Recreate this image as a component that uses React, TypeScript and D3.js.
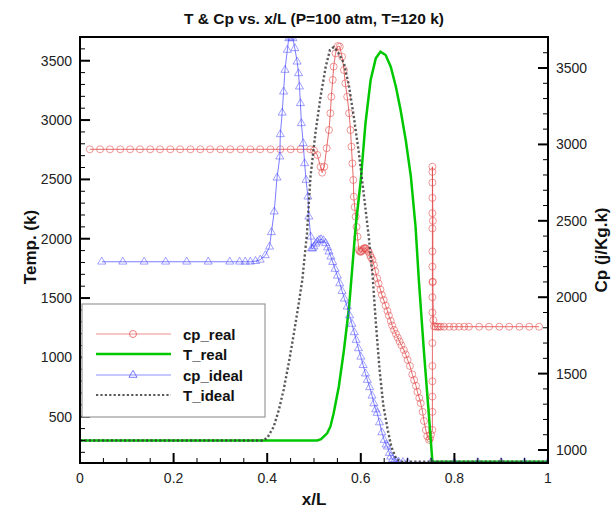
import React, { useEffect, useRef } from "react";
import * as d3 from "d3";

const W = 613, H = 510;
const M = { left: 80, right: 548, top: 37, bottom: 463 };

const xTicks = [0, 0.2, 0.4, 0.6, 0.8, 1];
const tempTicks = [500, 1000, 1500, 2000, 2500, 3000, 3500];
const cpTicks = [1000, 1500, 2000, 2500, 3000, 3500];

const tRealX = [0, 0.1, 0.2, 0.3, 0.4, 0.507, 0.515, 0.528, 0.535, 0.542, 0.553, 0.564, 0.575, 0.582, 0.589, 0.6, 0.61, 0.621, 0.632, 0.642, 0.653, 0.664, 0.675, 0.685, 0.696, 0.707, 0.717, 0.724, 0.735, 0.744, 0.753, 0.8, 0.9, 1.0];
const tRealY = [300, 300, 300, 300, 300, 300, 310, 360, 416, 529, 753, 1062, 1427, 1764, 2101, 2495, 2973, 3337, 3520, 3576, 3548, 3449, 3281, 3085, 2832, 2523, 2101, 1652, 1045, 590, 120, 120, 120, 120];

const tIdealX = [0, 0.1, 0.2, 0.3, 0.39, 0.4, 0.414, 0.425, 0.435, 0.446, 0.457, 0.466, 0.475, 0.485, 0.4925, 0.503, 0.514, 0.525, 0.534, 0.542, 0.55, 0.564, 0.575, 0.585, 0.596, 0.607, 0.617, 0.625, 0.632, 0.64, 0.648, 0.657, 0.665, 0.675, 0.685, 0.8, 1.0];
const tIdealY = [300, 300, 300, 300, 300, 320, 416, 560, 725, 950, 1202, 1420, 1652, 2045, 2523, 2888, 3197, 3449, 3590, 3615, 3580, 3480, 3281, 3029, 2720, 2354, 2017, 1700, 1300, 900, 600, 400, 250, 150, 120, 120, 120];

const cpRealX = [0.021, 0.043, 0.064, 0.086, 0.107, 0.128, 0.15, 0.171, 0.193, 0.214, 0.236, 0.257, 0.278, 0.3, 0.321, 0.343, 0.364, 0.385, 0.407, 0.428, 0.45, 0.471, 0.492, 0.5, 0.507, 0.514, 0.5175, 0.522, 0.527, 0.532, 0.535, 0.537, 0.54, 0.542, 0.546, 0.551, 0.555, 0.56, 0.564, 0.567, 0.571, 0.575, 0.578, 0.58, 0.582, 0.584, 0.585, 0.587, 0.589, 0.591, 0.593, 0.596, 0.598, 0.6, 0.602, 0.604, 0.606, 0.608, 0.61, 0.612, 0.615, 0.617, 0.62, 0.622, 0.625, 0.628, 0.631, 0.635, 0.638, 0.642, 0.645, 0.649, 0.653, 0.657, 0.66, 0.664, 0.667, 0.671, 0.675, 0.679, 0.683, 0.687, 0.692, 0.696, 0.7, 0.705, 0.71, 0.714, 0.718, 0.721, 0.725, 0.728, 0.732, 0.735, 0.739, 0.742, 0.746, 0.748, 0.75, 0.753, 0.753, 0.753, 0.753, 0.753, 0.753, 0.753, 0.753, 0.753, 0.753, 0.753, 0.753, 0.753, 0.753, 0.753, 0.753, 0.753, 0.754, 0.754, 0.755, 0.7566, 0.76, 0.764, 0.767, 0.771, 0.778, 0.789, 0.799, 0.81, 0.821, 0.831, 0.853, 0.874, 0.896, 0.917, 0.939, 0.96, 0.981];
const cpRealY = [2968, 2968, 2968, 2968, 2968, 2968, 2968, 2968, 2968, 2968, 2968, 2968, 2968, 2968, 2968, 2968, 2968, 2968, 2968, 2968, 2968, 2968, 2968, 2960, 2931, 2854, 2815, 2854, 2975, 3094, 3204, 3312, 3422, 3509, 3596, 3644, 3640, 3574, 3487, 3400, 3312, 3204, 3094, 2985, 2876, 2767, 2658, 2590, 2527, 2460, 2396, 2309, 2300, 2296, 2302, 2309, 2318, 2322, 2320, 2316, 2305, 2296, 2275, 2260, 2244, 2210, 2170, 2124, 2090, 2050, 2015, 1982, 1945, 1910, 1880, 1845, 1815, 1786, 1760, 1735, 1710, 1685, 1655, 1625, 1590, 1550, 1495, 1458, 1420, 1380, 1340, 1306, 1250, 1190, 1131, 1090, 1066, 1075, 1100, 1131, 1250, 1350, 1450, 1550, 1700, 1900, 2000, 2100, 2200, 2300, 2450, 2550, 2650, 2750, 2820, 2854, 2500, 2100, 1850, 1810, 1807, 1807, 1807, 1807, 1807, 1807, 1807, 1807, 1807, 1807, 1807, 1807, 1807, 1807, 1807, 1807, 1807];

const cpIdealX = [0.0465, 0.0914, 0.137, 0.183, 0.228, 0.274, 0.32, 0.341, 0.353, 0.364, 0.375, 0.385, 0.396, 0.405, 0.409, 0.415, 0.421, 0.427, 0.428, 0.432, 0.435, 0.438, 0.443, 0.446, 0.45, 0.455, 0.459, 0.464, 0.467, 0.469, 0.471, 0.473, 0.477, 0.48, 0.483, 0.487, 0.489, 0.493, 0.495, 0.497, 0.5, 0.504, 0.507, 0.511, 0.515, 0.52, 0.525, 0.529, 0.532, 0.536, 0.54, 0.545, 0.55, 0.555, 0.56, 0.565, 0.571, 0.576, 0.581, 0.586, 0.59, 0.595, 0.6, 0.605, 0.61, 0.614, 0.619, 0.624, 0.628, 0.632, 0.635, 0.64, 0.645, 0.65, 0.654, 0.657, 0.661, 0.664, 0.668, 0.672, 0.676, 0.681, 0.69, 0.7, 0.75, 0.8, 0.85, 0.9, 0.95, 1.0];
const cpIdealY = [2232, 2232, 2232, 2232, 2232, 2232, 2232, 2232, 2232, 2232, 2236, 2245, 2274, 2330, 2425, 2560, 2782, 2920, 3066, 3207, 3345, 3487, 3618, 3694, 3700, 3694, 3629, 3541, 3465, 3378, 3269, 3138, 3007, 2876, 2767, 2658, 2527, 2396, 2320, 2318, 2331, 2350, 2363, 2374, 2379, 2372, 2353, 2325, 2298, 2265, 2230, 2185, 2140, 2090, 2040, 1990, 1938, 1880, 1825, 1770, 1720, 1665, 1610, 1555, 1500, 1458, 1410, 1355, 1305, 1265, 1242, 1180, 1115, 1065, 1035, 1022, 980, 956, 940, 930, 925, 922, 920, 920, 920, 920, 920, 920, 920, 920];

const legendNames = ["cp_real", "T_real", "cp_ideal", "T_ideal"];

const FONT = "'Liberation Sans', Arial, sans-serif";
const RED = "rgb(226,70,70)";
const BLUE = "rgb(70,70,255)";
const GREEN = "rgb(0,200,0)";
const DOT = "rgb(60,60,60)";

export default function App() {
  const ref = useRef<SVGSVGElement>(null);
  useEffect(() => {
    const svg = d3.select(ref.current);
    svg.selectAll("*").remove();
    const x = d3.scaleLinear().domain([0, 1]).range([M.left, M.right]);
    const yT = d3.scaleLinear().domain([110, 3700]).range([M.bottom, M.top]);
    const yC = d3.scaleLinear().domain([915, 3703]).range([M.bottom, M.top]);

    svg.append("rect").attr("width", W).attr("height", H).attr("fill", "white");

    svg.append("defs").append("clipPath").attr("id", "clip")
      .append("rect").attr("x", M.left).attr("y", M.top - 1)
      .attr("width", M.right - M.left).attr("height", M.bottom - M.top + 1);

    const g = svg.append("g").attr("clip-path", "url(#clip)");

    const mk = (xs: number[], ys: number[]) => xs.map((v, i) => [v, ys[i]] as [number, number]);
    const tReal = mk(tRealX, tRealY);
    const tIdeal = mk(tIdealX, tIdealY);
    const cpReal = mk(cpRealX, cpRealY);
    const cpIdeal = mk(cpIdealX, cpIdealY);

    const lineT = d3.line<[number, number]>().x(d => x(d[0])).y(d => yT(d[1]));
    const lineC = d3.line<[number, number]>().x(d => x(d[0])).y(d => yC(d[1]));

    // cp_real
    g.append("path").attr("d", lineC(cpReal)).attr("fill", "none").attr("stroke", RED).attr("stroke-width", 1).attr("stroke-opacity", 0.8);
    g.selectAll("circle.cr").data(cpReal).enter().append("circle")
      .attr("cx", d => x(d[0])).attr("cy", d => yC(d[1])).attr("r", 3.5)
      .attr("fill", "none").attr("stroke", RED).attr("stroke-opacity", 0.55).attr("stroke-width", 1);

    // T_real
    g.append("path").attr("d", lineT(tReal)).attr("fill", "none").attr("stroke", GREEN).attr("stroke-width", 2.5);

    // cp_ideal
    g.append("path").attr("d", lineC(cpIdeal)).attr("fill", "none").attr("stroke", BLUE).attr("stroke-width", 1).attr("stroke-opacity", 0.7);
    const tri = d3.symbol().type(d3.symbolTriangle).size(28);
    g.selectAll("path.ci").data(cpIdeal).enter().append("path")
      .attr("d", tri()!).attr("transform", d => `translate(${x(d[0])},${yC(d[1])})`)
      .attr("fill", "none").attr("stroke", BLUE).attr("stroke-opacity", 0.5).attr("stroke-width", 1);

    // T_ideal
    g.append("path").attr("d", lineT(tIdeal)).attr("fill", "none").attr("stroke", DOT).attr("stroke-width", 2.4).attr("stroke-dasharray", "2.2,2.2").attr("stroke-opacity", 0.85);

    // frame
    svg.append("rect").attr("x", M.left).attr("y", M.top).attr("width", M.right - M.left).attr("height", M.bottom - M.top)
      .attr("fill", "none").attr("stroke", "#000").attr("stroke-width", 2);

    const ax = svg.append("g").attr("stroke", "#000");
    d3.range(0, 1.0001, 0.05).forEach(v => {
      const major = xTicks.some(t => Math.abs(t - v) < 1e-6);
      ax.append("line").attr("x1", x(v)).attr("x2", x(v)).attr("y1", M.bottom).attr("y2", M.bottom - (major ? 10 : 5)).attr("stroke-width", major ? 2 : 1);
    });
    d3.range(200, 3700, 100).forEach(v => {
      const major = v % 500 === 0;
      ax.append("line").attr("y1", yT(v)).attr("y2", yT(v)).attr("x1", M.left).attr("x2", M.left + (major ? 10 : 5)).attr("stroke-width", major ? 2 : 1);
    });
    d3.range(1000, 3701, 100).forEach(v => {
      const major = v % 500 === 0;
      ax.append("line").attr("y1", yC(v)).attr("y2", yC(v)).attr("x1", M.right).attr("x2", M.right - (major ? 10 : 5)).attr("stroke-width", major ? 2 : 1);
    });

    const txt = svg.append("g").attr("font-family", FONT).attr("fill", "#222");
    xTicks.forEach(v => {
      txt.append("text").attr("x", x(v)).attr("y", 483).attr("text-anchor", "middle").attr("font-size", 14).text(String(v));
    });
    tempTicks.forEach(v => {
      txt.append("text").attr("x", 72).attr("y", yT(v) + 5).attr("text-anchor", "end").attr("font-size", 14).text(String(v));
    });
    cpTicks.forEach(v => {
      txt.append("text").attr("x", 556).attr("y", yC(v) + 5).attr("text-anchor", "start").attr("font-size", 14).text(String(v));
    });

    svg.append("text").attr("x", 314).attr("y", 24).attr("text-anchor", "middle").attr("font-family", FONT)
      .attr("font-weight", "bold").attr("font-size", 15.5).attr("fill", "#111").text("T & Cp vs. x/L (P=100 atm, T=120 k)");
    svg.append("text").attr("x", 314).attr("y", 505).attr("text-anchor", "middle").attr("font-family", FONT)
      .attr("font-weight", "bold").attr("font-size", 17).attr("fill", "#111").text("x/L");
    svg.append("text").attr("transform", "translate(36,247) rotate(-90)").attr("text-anchor", "middle").attr("font-family", FONT)
      .attr("font-weight", "bold").attr("font-size", 17).attr("fill", "#111").text("Temp. (k)");
    svg.append("text").attr("transform", "translate(607,250) rotate(-90)").attr("text-anchor", "middle").attr("font-family", FONT)
      .attr("font-weight", "bold").attr("font-size", 17).attr("fill", "#111").text("Cp (j/Kg.k)");

    const lg = svg.append("g");
    lg.append("rect").attr("x", 82).attr("y", 304).attr("width", 183).attr("height", 113).attr("fill", "white").attr("stroke", "#999").attr("stroke-width", 1.2);
    const ly = [334, 354, 375, 395];
    const lx1 = 96, lx2 = 171, lm = 133;
    lg.append("line").attr("x1", lx1).attr("x2", lx2).attr("y1", ly[0]).attr("y2", ly[0]).attr("stroke", RED).attr("stroke-opacity", 0.6).attr("stroke-width", 1.2);
    lg.append("circle").attr("cx", lm).attr("cy", ly[0]).attr("r", 3.5).attr("fill", "none").attr("stroke", RED).attr("stroke-opacity", 0.7);
    lg.append("line").attr("x1", lx1).attr("x2", lx2).attr("y1", ly[1]).attr("y2", ly[1]).attr("stroke", GREEN).attr("stroke-width", 2.5);
    lg.append("line").attr("x1", lx1).attr("x2", lx2).attr("y1", ly[2]).attr("y2", ly[2]).attr("stroke", BLUE).attr("stroke-opacity", 0.6).attr("stroke-width", 1.2);
    lg.append("path").attr("d", tri()!).attr("transform", `translate(${lm},${ly[2]})`).attr("fill", "none").attr("stroke", BLUE).attr("stroke-opacity", 0.7);
    lg.append("line").attr("x1", lx1).attr("x2", lx2).attr("y1", ly[3]).attr("y2", ly[3]).attr("stroke", DOT).attr("stroke-width", 2.2).attr("stroke-dasharray", "2.2,2.2").attr("stroke-opacity", 0.85);
    legendNames.forEach((n, i) => {
      lg.append("text").attr("x", 183).attr("y", ly[i] + 6).attr("font-family", FONT).attr("font-weight", "bold")
        .attr("font-size", 15).attr("fill", "#111").text(n);
    });
  }, []);
  return (
    <svg ref={ref} width={W} height={H} style={{ position: "absolute", left: 0, top: 0 }} />
  );
}
